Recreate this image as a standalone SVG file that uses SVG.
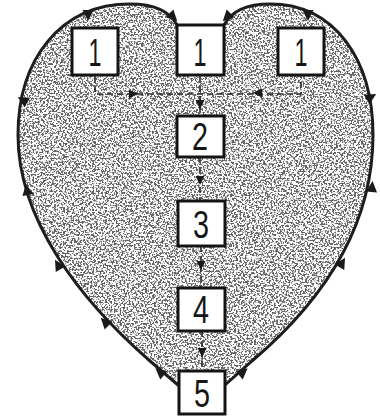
<svg xmlns="http://www.w3.org/2000/svg" xmlns:xlink="http://www.w3.org/1999/xlink" width="380" height="417" viewBox="0 0 380 417">
<defs>
<filter id="grain" x="0" y="0" width="100%" height="100%" filterUnits="objectBoundingBox">
<feTurbulence type="fractalNoise" baseFrequency="0.55" numOctaves="2" seed="7" result="n"/>
<feColorMatrix in="n" type="matrix" values="0 0 0 0 0.12  0 0 0 0 0.12  0 0 0 0 0.12  9 0 0 0 -4.3" result="d"/>
<feComposite in="d" in2="SourceAlpha" operator="in"/>
</filter>
<polygon id="tri" points="6,0 -5,-5.5 -5,5.5"/>
<polygon id="tris" points="5,0 -4,-4.5 -4,4.5"/>
<style>
.outline{fill:none;stroke:#1e1e1e;stroke-width:3;stroke-linecap:round}
.dash{fill:none;stroke:#2a2a2a;stroke-width:1.6;stroke-dasharray:6 4}
.box{fill:#ffffff;stroke:#141414;stroke-width:3}
.num{font-family:"Liberation Sans",Arial,sans-serif;font-size:39px;fill:#161616;text-anchor:middle}
.ah{fill:#1a1a1a}
</style>
</defs>
<rect width="380" height="417" fill="#ffffff"/>
<path id="heartfill" d="M177,25 C170,12 155,4 130,4 C60,4 18,60 18,135 C18,220 80,300 150,361 L178,385 L225,385 L252,361 C330,295 373,220 373,135 C373,60 335,4 270,4 C248,4 232,10 224,25 Z" fill="#000" filter="url(#grain)"/>
<g id="connectors">
<path class="outline" d="M178,385 L150,361 C80,300 18,220 18,135 C18,60 60,4 130,4 C155,4 170,12 177,25"/>
<path class="outline" d="M224,25 C232,10 248,4 270,4 C335,4 373,60 373,135 C373,220 330,295 252,361 L225,385"/>
<g class="ah">
<use xlink:href="#tri" transform="translate(88,15) rotate(90)"/>
<use xlink:href="#tri" transform="translate(173,17) rotate(45)"/>
<use xlink:href="#tri" transform="translate(227,17) rotate(135)"/>
<use xlink:href="#tri" transform="translate(308,15) rotate(90)"/>
<use xlink:href="#tri" transform="translate(23,100) rotate(-150)"/>
<use xlink:href="#tri" transform="translate(371,97) rotate(-30)"/>
<use xlink:href="#tri" transform="translate(27,190) rotate(-100)"/>
<use xlink:href="#tri" transform="translate(58,265) rotate(-120)"/>
<use xlink:href="#tri" transform="translate(105,322) rotate(-135)"/>
<use xlink:href="#tri" transform="translate(160,372) rotate(-140)"/>
<use xlink:href="#tri" transform="translate(372,187) rotate(-85)"/>
<use xlink:href="#tri" transform="translate(342,263) rotate(-60)"/>
<use xlink:href="#tri" transform="translate(243,372) rotate(-40)"/>
</g>
<path class="dash" d="M95,76 V94 H301 V76"/>
<path class="dash" d="M200,76 V115"/>
<path class="dash" d="M200,157 V200"/>
<path class="dash" d="M201,246 V287"/>
<path class="dash" d="M202,331 V370"/>
<g class="ah">
<use xlink:href="#tris" transform="translate(133,94)"/>
<use xlink:href="#tris" transform="translate(258,93) rotate(180)"/>
<use xlink:href="#tris" transform="translate(200,104) rotate(90)"/>
<use xlink:href="#tris" transform="translate(200,180) rotate(90)"/>
<use xlink:href="#tris" transform="translate(201,265) rotate(90)"/>
<use xlink:href="#tris" transform="translate(202,352) rotate(90)"/>
</g>
</g>
<g id="node-1-left"><rect class="box" x="72" y="28" width="46" height="47"/><text class="num" x="95" y="66" textLength="13" lengthAdjust="spacingAndGlyphs">1</text></g>
<g id="node-1-center"><rect class="box" x="177" y="25" width="47" height="50"/><text class="num" x="200" y="66" textLength="13" lengthAdjust="spacingAndGlyphs">1</text></g>
<g id="node-1-right"><rect class="box" x="278" y="28" width="46" height="47"/><text class="num" x="301" y="66" textLength="13" lengthAdjust="spacingAndGlyphs">1</text></g>
<g id="node-2"><rect class="box" x="177" y="116" width="47" height="41"/><text class="num" x="200" y="150" textLength="16" lengthAdjust="spacingAndGlyphs">2</text></g>
<g id="node-3"><rect class="box" x="178" y="201" width="47" height="45"/><text class="num" x="201" y="238" textLength="16" lengthAdjust="spacingAndGlyphs">3</text></g>
<g id="node-4"><rect class="box" x="178" y="288" width="47" height="43"/><text class="num" x="201" y="323" textLength="16" lengthAdjust="spacingAndGlyphs">4</text></g>
<g id="node-5"><rect class="box" x="179" y="371" width="46" height="43"/><text class="num" x="202" y="407" textLength="16" lengthAdjust="spacingAndGlyphs">5</text></g>
</svg>
